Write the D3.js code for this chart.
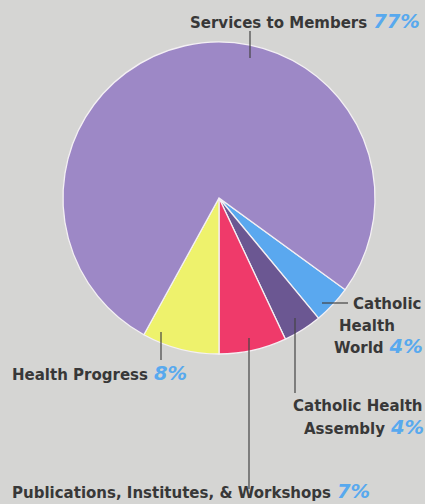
<!DOCTYPE html>
<html>
<head>
<meta charset="utf-8">
<script src="https://cdn.jsdelivr.net/npm/d3@7"></script>
<style>
  body { margin: 0; background: #d5d5d3; }
  svg { display: block; }
  .lbl { font-family: "DejaVu Sans", Verdana, sans-serif; font-weight: bold; fill: #383838; font-size: 15px; }
  .pct { fill: #58a9ee; font-size: 19.5px; font-weight: bold; font-style: italic; }
  .leader { stroke: #444; stroke-width: 1.2; }
</style>
</head>
<body>
<div class="chart"></div>
<script>
// slices in clockwise order, starting from the lower right
var names = ["Catholic Health World", "Catholic Health Assembly", "Publications, Institutes, & Workshops", "Health Progress", "Services to Members"];
var shares = [4, 4, 7, 8, 77];
var colors = ["#5aa8ef", "#6b5792", "#ef3a6a", "#eef26c", "#9d88c6"];

var width = 425, height = 504;
var cx = 219, cy = 198, radius = 156;

var svg = d3.select(".chart").append("svg")
    .attr("width", width)
    .attr("height", height);

var start = 126 * Math.PI / 180;
var pie = d3.pie().sort(null).value(function(d) { return d; })
    .startAngle(start).endAngle(start + 2 * Math.PI);
var arc = d3.arc().innerRadius(0).outerRadius(radius);

var g = svg.append("g").attr("transform", "translate(" + cx + "," + cy + ")");
g.selectAll("path")
  .data(pie(shares))
  .enter().append("path")
    .attr("d", arc)
    .attr("fill", function(d, i) { return colors[i]; })
    .attr("stroke", "#f4f0f4")
    .attr("stroke-width", 1.3);

// leader lines
var leaders = [
  [322, 303, 348, 303],
  [295, 318, 295, 393],
  [249, 338, 249, 489],
  [161, 332, 161, 360],
  [250, 31, 250, 58]
];
svg.selectAll("line.leader")
  .data(leaders)
  .enter().append("line")
    .attr("class", "leader")
    .attr("x1", function(d) { return d[0]; })
    .attr("y1", function(d) { return d[1]; })
    .attr("x2", function(d) { return d[2]; })
    .attr("y2", function(d) { return d[3]; });

// label lines: text, pct, x, baseline
var labelLines = [
  ["Catholic", "", 353, 309],
  ["Health", "", 339, 331],
  ["World", shares[0] + "%", 334, 353],
  ["Catholic Health", "", 293, 411],
  ["Assembly", shares[1] + "%", 304, 434],
  ["Publications, Institutes, & Workshops", shares[2] + "%", 12, 498],
  ["Health Progress", shares[3] + "%", 12, 380],
  ["Services to Members", shares[4] + "%", 190, 28]
];

labelLines.forEach(function(l) {
  var t = svg.append("text")
      .attr("class", "lbl")
      .attr("x", l[2])
      .attr("y", l[3]);
  t.append("tspan").text(l[0]);
  if (l[1]) t.append("tspan").attr("class", "pct").attr("dx", 6).text(l[1]);
});
</script>
</body>
</html>
